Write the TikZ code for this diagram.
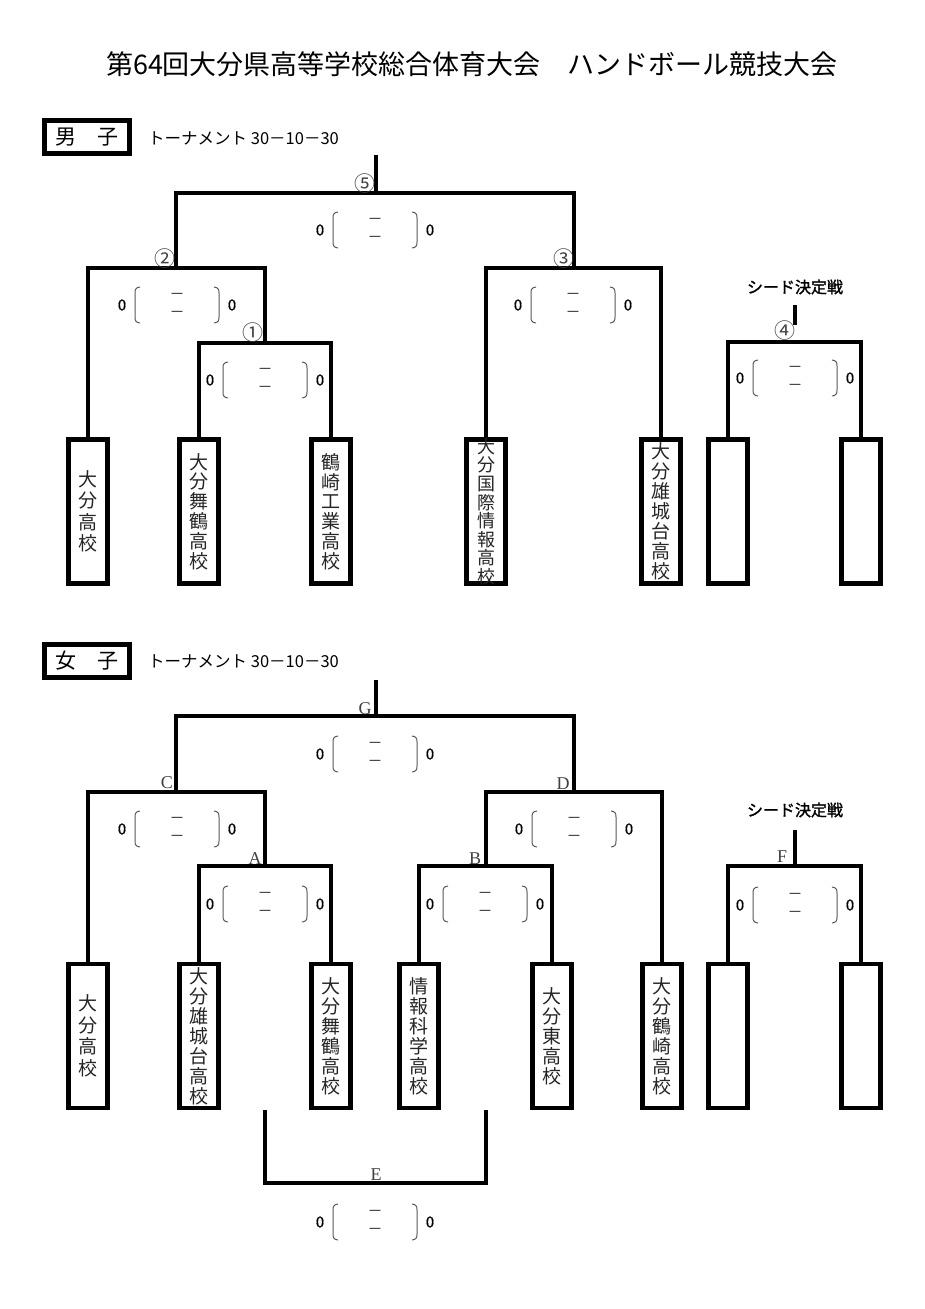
\documentclass[tikz,border=0pt]{standalone}
\usepackage{fontspec}
\newfontfamily\cjk{Noto Sans CJK JP}
\newfontfamily\cjkbold{Noto Sans CJK JP}[FakeBold=1.5]
\newfontfamily\cjkmed{Noto Sans CJK JP}[FakeBold=0.6]
\newfontfamily\serifL{Liberation Serif}
\tikzset{
  bline/.style={line width=4pt},
  teambox/.style={draw, line width=4.5pt, minimum width=39pt, minimum height=144pt, inner sep=0pt},
  teamtxt/.style={font=\cjk\fontsize{19}{20}\selectfont, align=center, inner sep=0pt, text=black!85},
  hdrbox/.style={draw, line width=5pt, minimum width=85pt, minimum height=33pt, inner sep=0pt, font=\cjk\fontsize{21}{21}\selectfont},
  hdrtxt/.style={font=\cjk\fontsize{16.5}{16.5}\selectfont, inner sep=0pt, anchor=west},
  zero/.style={font=\cjkmed\fontsize{15}{15}\selectfont, inner sep=0pt},
  dashm/.style={font=\cjk\fontsize{15}{15}\selectfont, inner sep=0pt, text=black!80},
  paren/.style={line width=1pt, draw=black!65},
  rlabel/.style={font=\serifL\fontsize{18}{18}\selectfont, inner sep=0pt, text=black!75},
  clabel/.style={font=\cjk\fontsize{21}{21}\selectfont, inner sep=0pt, text=black!75},
  seedtxt/.style={font=\cjkbold\fontsize{16}{16}\selectfont, inner sep=0pt},
}
\newcommand\scorebox[3]{%
  \begin{scope}[shift={(#2,#3)}]
    \node[zero] (#1-l) at (-55,0) {0};
    \node[zero] (#1-r) at (55,0) {0};
    \node[dashm] (#1-t) at (0,-9) {－};
    \node[dashm] (#1-b) at (0,9) {－};
    \draw[paren] (-37,-18) .. controls (-41,-17.5) and (-42,-16) .. (-42,-12) -- (-42,12) .. controls (-42,16) and (-41,17.5) .. (-37,18);
    \draw[paren] (37,-18) .. controls (41,-17.5) and (42,-16) .. (42,-12) -- (42,12) .. controls (42,16) and (41,17.5) .. (37,18);
  \end{scope}}
\begin{document}
\begin{tikzpicture}[x=1pt,y=-1pt]
\fill[white] (0,0) rectangle (925,1309);
\useasboundingbox (0,0) rectangle (925,1309);

% title
\node[font=\cjk\fontsize{27}{27}\selectfont, inner sep=0pt] (title) at (472,64) {第64回大分県高等学校総合体育大会　ハンドボール競技大会};

% ---------------- men ----------------
\node[hdrbox] (mh) at (87,137) {男　子};
\node[hdrtxt] (mht) at (148,138) {トーナメント\ 30－10－30};

\node[teambox] (m1) at (88,511.5) {};
\node[teambox] (m2) at (199,511.5) {};
\node[teambox] (m3) at (331,511.5) {};
\node[teambox] (m4) at (486,511.5) {};
\node[teambox] (m5) at (661,511.5) {};
\node[teambox] (m6) at (728,511.5) {};
\node[teambox] (m7) at (861,511.5) {};

\node[teamtxt, font=\cjk\fontsize{19}{21.5}\selectfont] (m1t) at (m1) {大\\分\\高\\校};
\node[teamtxt, font=\cjk\fontsize{19}{19.8}\selectfont] (m2t) at (m2) {大\\分\\舞\\鶴\\高\\校};
\node[teamtxt, font=\cjk\fontsize{19}{19.8}\selectfont] (m3t) at (m3) {鶴\\崎\\工\\業\\高\\校};
\node[teamtxt, font=\cjk\fontsize{18}{18.6}\selectfont] (m4t) at (m4) {大\\分\\国\\際\\情\\報\\高\\校};
\node[teamtxt] (m5t) at (m5) {大\\分\\雄\\城\\台\\高\\校};

\coordinate (k1) at (265,343);
\coordinate (k2) at (176,268);
\coordinate (k3) at (574,268);
\coordinate (k5) at (376,193);
\coordinate (k5t) at (376,155);
\coordinate (k4) at (795,342);
\coordinate (k4t) at (795,305);
\coordinate (k4b) at (795,325);

\draw[bline] (m2.north) |- (k1) -| (m3.north);
\draw[bline] (m1.north) |- (k2) -| (k1);
\draw[bline] (m4.north) |- (k3) -| (m5.north);
\draw[bline] (k2) |- (k5) -| (k3);
\draw[bline] (k5) -- (k5t);
\draw[bline] (m6.north) |- (k4) -| (m7.north);
\draw[bline] (k4t) -- (k4b);

\node[clabel] (l5) at (365,184) {⑤};
\node[clabel] (l2) at (165,259) {②};
\node[clabel] (l1) at (253,333) {①};
\node[clabel] (l3) at (564,259) {③};
\node[clabel] (l4) at (785,331) {④};
\node[seedtxt] (ms) at (795,287) {シード決定戦};

\scorebox{s5}{375}{230}
\scorebox{s2}{177}{305}
\scorebox{s1}{265}{380}
\scorebox{s3}{573}{305}
\scorebox{s4}{795}{378}

% ---------------- women ----------------
\node[hdrbox] (wh) at (87,661) {女　子};
\node[hdrtxt] (wht) at (148,661) {トーナメント\ 30－10－30};

\node[teambox] (w1) at (88,1036) {};
\node[teambox] (w2) at (199,1036) {};
\node[teambox] (w3) at (331,1036) {};
\node[teambox] (w4) at (419,1036) {};
\node[teambox] (w5) at (552,1036) {};
\node[teambox] (w6) at (662,1036) {};
\node[teambox] (w7) at (728,1036) {};
\node[teambox] (w8) at (861,1036) {};

\node[teamtxt, font=\cjk\fontsize{19}{21.5}\selectfont] (w1t) at (w1) {大\\分\\高\\校};
\node[teamtxt] (w2t) at (w2) {大\\分\\雄\\城\\台\\高\\校};
\node[teamtxt] (w3t) at (w3) {大\\分\\舞\\鶴\\高\\校};
\node[teamtxt] (w4t) at (w4) {情\\報\\科\\学\\高\\校};
\node[teamtxt] (w5t) at (w5) {大\\分\\東\\高\\校};
\node[teamtxt] (w6t) at (w6) {大\\分\\鶴\\崎\\高\\校};

\coordinate (ka) at (265,866);
\coordinate (kc) at (176,792);
\coordinate (kb) at (486,866);
\coordinate (kd) at (574,792);
\coordinate (kg) at (376,716);
\coordinate (kgt) at (376,680);
\coordinate (kf) at (795,866);
\coordinate (kft) at (795,830);
\coordinate (ke1) at (265,1110);
\coordinate (ke2) at (486,1110);
\coordinate (ke) at (376,1183);

\draw[bline] (w2.north) |- (ka) -| (w3.north);
\draw[bline] (w1.north) |- (kc) -| (ka);
\draw[bline] (w4.north) |- (kb) -| (w5.north);
\draw[bline] (kb) |- (kd) -| (w6.north);
\draw[bline] (kc) |- (kg) -| (kd);
\draw[bline] (kg) -- (kgt);
\draw[bline] (w7.north) |- (kf) -| (w8.north);
\draw[bline] (kf) -- (kft);
\draw[bline] (ke1) |- (ke) -| (ke2);

\node[rlabel] (lg) at (365,709) {G};
\node[rlabel] (lc) at (167,783) {C};
\node[rlabel] (la) at (255,859) {A};
\node[rlabel] (ld) at (563,784) {D};
\node[rlabel] (lb) at (475,859) {B};
\node[rlabel] (lf) at (782,857) {F};
\node[rlabel] (le) at (376,1175) {E};
\node[seedtxt] (ws) at (795,810) {シード決定戦};

\scorebox{sg}{375}{754}
\scorebox{sc}{177}{829}
\scorebox{sa}{265}{904}
\scorebox{sd}{574}{829}
\scorebox{sb}{485}{904}
\scorebox{sf}{795}{905}
\scorebox{se}{375}{1222}
\end{tikzpicture}
\end{document}
